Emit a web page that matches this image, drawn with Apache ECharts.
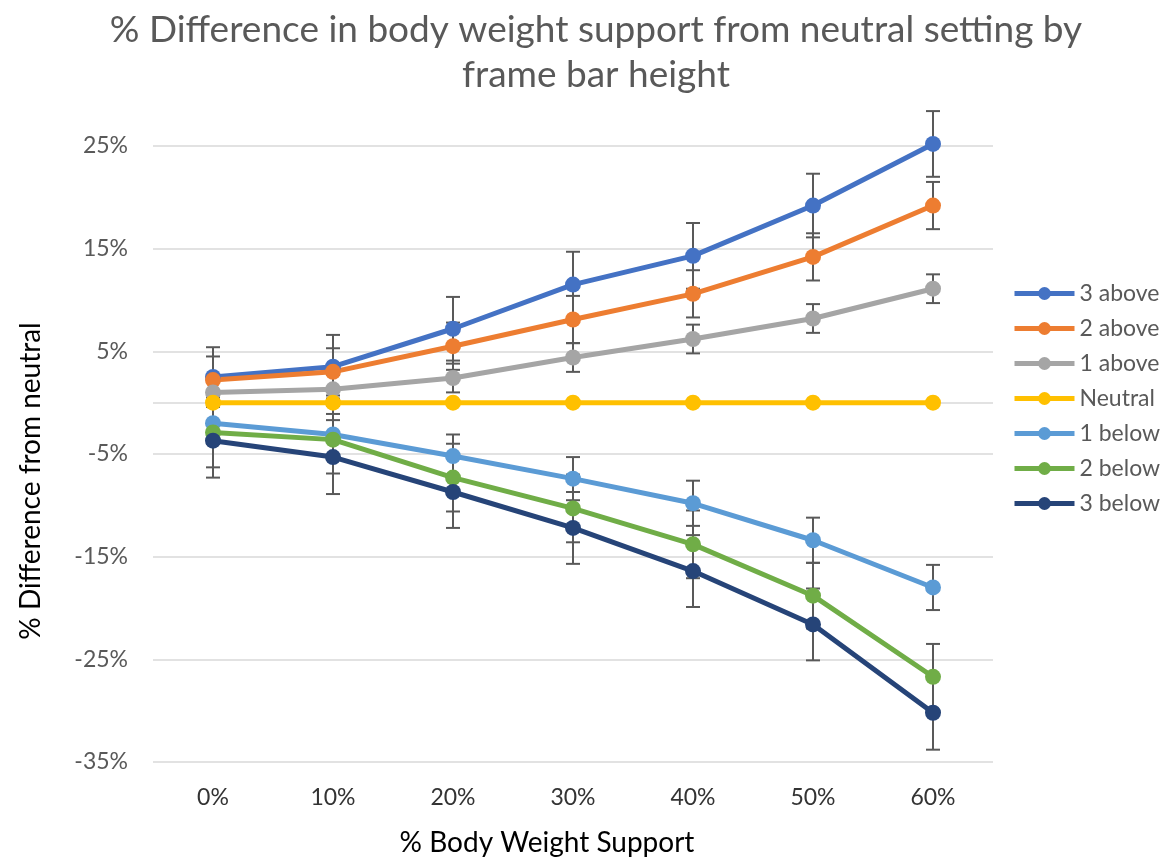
<!DOCTYPE html>
<html>
<head>
<meta charset="utf-8">
<title>% Difference in body weight support</title>
<script src="https://cdn.jsdelivr.net/npm/echarts@6/dist/echarts.min.js"></script>
<style>
  html, body { margin: 0; padding: 0; background: #fff; }
  #chart { width: 1173px; height: 863px; }
</style>
</head>
<body>
<div id="chart"></div>
<script>
// body weight support levels (x axis)
var categories = ['0%', '10%', '20%', '30%', '40%', '50%', '60%'];

// mean % difference from neutral
var above3 = [2.5, 3.5, 7.2, 11.5, 14.3, 19.2, 25.2];
var above2 = [2.2, 3.0, 5.5, 8.1, 10.6, 14.2, 19.2];
var above1 = [1.0, 1.3, 2.4, 4.4, 6.2, 8.2, 11.1];
var neutral = [0, 0, 0, 0, 0, 0, 0];
var below1 = [-2.0, -3.1, -5.2, -7.4, -9.8, -13.4, -18.0];
var below2 = [-2.9, -3.6, -7.3, -10.3, -13.8, -18.8, -26.7];
var below3 = [-3.7, -5.3, -8.7, -12.2, -16.4, -21.6, -30.2];

// error bar half-lengths
var above3Err = [2.9, 3.1, 3.1, 3.2, 3.2, 3.1, 3.2];
var above2Err = [2.3, 2.3, 2.3, 2.3, 2.3, 2.3, 2.3];
var above1Err = [1.4, 1.4, 1.4, 1.4, 1.4, 1.4, 1.4];
var below1Err = [2.0, 2.0, 2.1, 2.1, 2.2, 2.2, 2.2];
var below2Err = [3.4, 3.3, 3.3, 3.3, 3.3, 3.2, 3.2];
var below3Err = [3.6, 3.6, 3.5, 3.5, 3.5, 3.5, 3.6];

// y axis ticks
var yMin = -35;
var yMax = 25;
var yStep = 10;

var seriesList = [
  { name: '3 above', color: '#4472C4', data: above3, err: above3Err },
  { name: '2 above', color: '#ED7D31', data: above2, err: above2Err },
  { name: '1 above', color: '#A5A5A5', data: above1, err: above1Err },
  { name: 'Neutral', color: '#FFC000', data: neutral, err: null },
  { name: '1 below', color: '#5B9BD5', data: below1, err: below1Err },
  { name: '2 below', color: '#70AD47', data: below2, err: below2Err },
  { name: '3 below', color: '#264478', data: below3, err: below3Err }
];

var FONT = 'Lato, "Open Sans", sans-serif';

function errorBar(params, api) {
  var x = api.value(0), y = api.value(1), e = api.value(2);
  var top = api.coord([x, y + e]);
  var bot = api.coord([x, y - e]);
  var w = 7;
  var st = { stroke: '#595959', lineWidth: 2 };
  return {
    type: 'group',
    children: [
      { type: 'line', shape: { x1: top[0], y1: top[1], x2: bot[0], y2: bot[1] }, style: st },
      { type: 'line', shape: { x1: top[0] - w, y1: top[1], x2: top[0] + w, y2: top[1] }, style: st },
      { type: 'line', shape: { x1: bot[0] - w, y1: bot[1], x2: bot[0] + w, y2: bot[1] }, style: st }
    ]
  };
}

var series = [];
seriesList.forEach(function (s) {
  if (s.err) {
    series.push({
      type: 'custom',
      name: s.name + ' error',
      renderItem: errorBar,
      clip: false,
      silent: true,
      z: 1,
      data: s.data.map(function (v, i) { return [i, v, s.err[i]]; })
    });
  }
});
seriesList.forEach(function (s) {
  var line = {
    type: 'line',
    name: s.name,
    data: s.data,
    symbol: 'circle',
    symbolSize: 16,
    clip: false,
    z: 3,
    lineStyle: { color: s.color, width: 5 },
    itemStyle: { color: s.color },
    emphasis: { disabled: true }
  };
  if (s.name === 'Neutral') {
    // horizontal axis crossing at zero
    line.markLine = {
      silent: true,
      symbol: 'none',
      label: { show: false },
      z: 0,
      lineStyle: { color: '#d9d9d9', width: 1.5, type: 'solid' },
      data: [{ yAxis: 0 }]
    };
  }
  series.push(line);
});

var chart = echarts.init(document.getElementById('chart'));
chart.setOption({
  backgroundColor: '#fff',
  animation: false,
  title: {
    text: '% Difference in body weight support from neutral setting by\nframe bar height',
    left: 591,
    top: 3,
    textAlign: 'center',
    textStyle: {
      fontFamily: FONT,
      fontSize: 37,
      fontWeight: 'normal',
      color: '#595959',
      lineHeight: 45
    }
  },
  legend: {
    orient: 'vertical',
    left: 1007,
    top: 277,
    itemWidth: 60,
    itemHeight: 16,
    itemGap: 12,
    data: seriesList.map(function (s) { return s.name; }),
    lineStyle: { width: 5 },
    textStyle: {
      fontFamily: FONT,
      fontSize: 23,
      color: '#595959',
      lineHeight: 22
    }
  },
  grid: {
    left: 153,
    right: 180,
    top: 146,
    bottom: 101,
    containLabel: false
  },
  xAxis: {
    type: 'category',
    data: categories,
    boundaryGap: true,
    name: '% Body Weight Support',
    nameLocation: 'middle',
    nameGap: 67,
    nameTextStyle: {
      fontFamily: FONT,
      fontSize: 28,
      color: '#000',
      padding: [0, 52, 0, 0]
    },
    axisLine: { show: false },
    axisTick: { show: false },
    axisLabel: {
      fontFamily: FONT,
      fontSize: 23,
      color: '#333',
      margin: 24
    },
    splitLine: { show: false }
  },
  yAxis: {
    type: 'value',
    min: yMin,
    max: yMax,
    interval: yStep,
    name: '% Difference from neutral',
    nameLocation: 'middle',
    nameRotate: 90,
    nameGap: 108,
    nameTextStyle: {
      fontFamily: FONT,
      fontSize: 28,
      color: '#000',
      padding: [0, 54, 0, 0]
    },
    axisLine: { show: false },
    axisTick: { show: false },
    axisLabel: {
      fontFamily: FONT,
      fontSize: 23,
      color: '#595959',
      margin: 25,
      formatter: '{value}%'
    },
    splitLine: { lineStyle: { color: '#d9d9d9', width: 1.5 } }
  },
  series: series
});
</script>
</body>
</html>
